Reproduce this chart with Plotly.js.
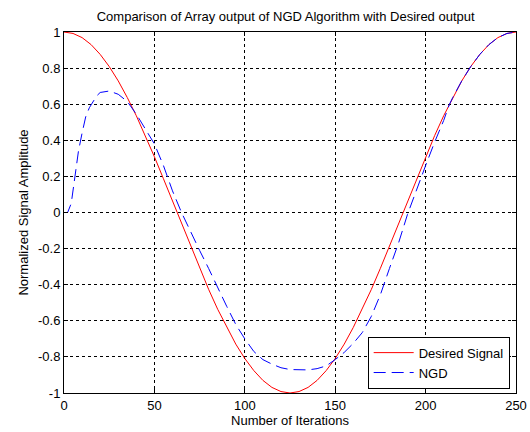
<!DOCTYPE html>
<html>
<head>
<meta charset="utf-8">
<script src="https://cdn.plot.ly/plotly-3.0.1.min.js"></script>
<style>html,body{margin:0;padding:0;background:#fff;}#chart{width:530px;height:432px;}</style>
</head>
<body>
<div id="chart"></div>
<script>
// Desired signal (every 5 iterations)
var desiredX = [0,5,10,15,20,25,30,35,40,45,50,55,60,65,70,75,80,85,90,95,100,105,110,115,120,125,130,135,140,145,150,155,160,165,170,175,180,185,190,195,200,205,210,215,220,225,230,235,240,245,250];
var desiredY = [1,0.992,0.969,0.930,0.876,0.809,0.729,0.637,0.536,0.426,0.309,0.187,0.063,-0.063,-0.187,-0.309,-0.426,-0.536,-0.637,-0.729,-0.809,-0.876,-0.930,-0.969,-0.992,-1,-0.992,-0.969,-0.930,-0.876,-0.809,-0.729,-0.637,-0.536,-0.426,-0.309,-0.187,-0.063,0.063,0.187,0.309,0.426,0.536,0.637,0.729,0.809,0.876,0.930,0.969,0.992,1];

// NGD output
var ngdX = [0,2,4,6,8,10,12,14,16,18,20,25,30,35,40,45,50,55,60,65,70,75,80,85,90,95,100,105,110,115,120,125,130,135,140,145,150,155,160,165,170,175,180,185,190,195,200,205,210,213,215,220,225,230,235,240,245,250];
var ngdY = [0,0.0,0.05,0.19,0.34,0.44,0.53,0.58,0.615,0.645,0.665,0.673,0.655,0.615,0.545,0.46,0.38,0.26,0.12,0.0,-0.11,-0.21,-0.31,-0.42,-0.52,-0.62,-0.70,-0.77,-0.815,-0.84,-0.86,-0.87,-0.873,-0.872,-0.865,-0.85,-0.815,-0.775,-0.725,-0.665,-0.575,-0.455,-0.31,-0.17,-0.01,0.13,0.26,0.39,0.51,0.595,0.637,0.729,0.809,0.876,0.930,0.969,0.992,1];

var xTicks = [0,50,100,150,200,250];
var yTicks = [-1,-0.8,-0.6,-0.4,-0.2,0,0.2,0.4,0.6,0.8,1];
var yTickText = ['-1','-0.8','-0.6','-0.4','-0.2','0','0.2','0.4','0.6','0.8','1'];

var font = {family: 'Liberation Sans, Arial, sans-serif', size: 13, color: '#000'};

var traces = [
  {x: desiredX, y: desiredY, type: 'scatter', mode: 'lines', name: 'Desired Signal',
   line: {color: '#ff0000', width: 1}},
  {x: ngdX, y: ngdY, type: 'scatter', mode: 'lines', name: 'NGD',
   line: {color: '#0000ff', width: 1, dash: '12px,6px'}}
];

var axisCommon = {
  showline: true, linecolor: '#000', linewidth: 1, mirror: 'ticks',
  ticks: 'inside', ticklen: 4, tickcolor: '#000',
  showgrid: true, gridcolor: '#000', gridwidth: 1, griddash: 'dot',
  zeroline: false, tickfont: font
};

var layout = {
  width: 530, height: 432,
  margin: {l: 63.5, r: 13.5, t: 32, b: 39},
  paper_bgcolor: '#fff', plot_bgcolor: '#fff',
  font: font,
  title: {text: 'Comparison of Array output of NGD Algorithm with Desired output',
          font: font, x: 0.539, xanchor: 'center', xref: 'container', y: 0.962, yanchor: 'middle', yref: 'container'},
  xaxis: Object.assign({}, axisCommon, {range: [0, 250], tickvals: xTicks,
          title: {text: 'Number of Iterations', font: font, standoff: 1}}),
  yaxis: Object.assign({}, axisCommon, {range: [-1, 1], tickvals: yTicks, ticktext: yTickText,
          title: {text: 'Normalized Signal Amplitude', font: font, standoff: 6}}),
  showlegend: true,
  legend: {x: 0.986, y: 0.012, xanchor: 'right', yanchor: 'bottom',
           bordercolor: '#000', borderwidth: 1, bgcolor: '#fff', font: font,
           tracegroupgap: 0, itemwidth: 40}
};

Plotly.newPlot('chart', traces, layout, {displayModeBar: false, staticPlot: true});
</script>
</body>
</html>
